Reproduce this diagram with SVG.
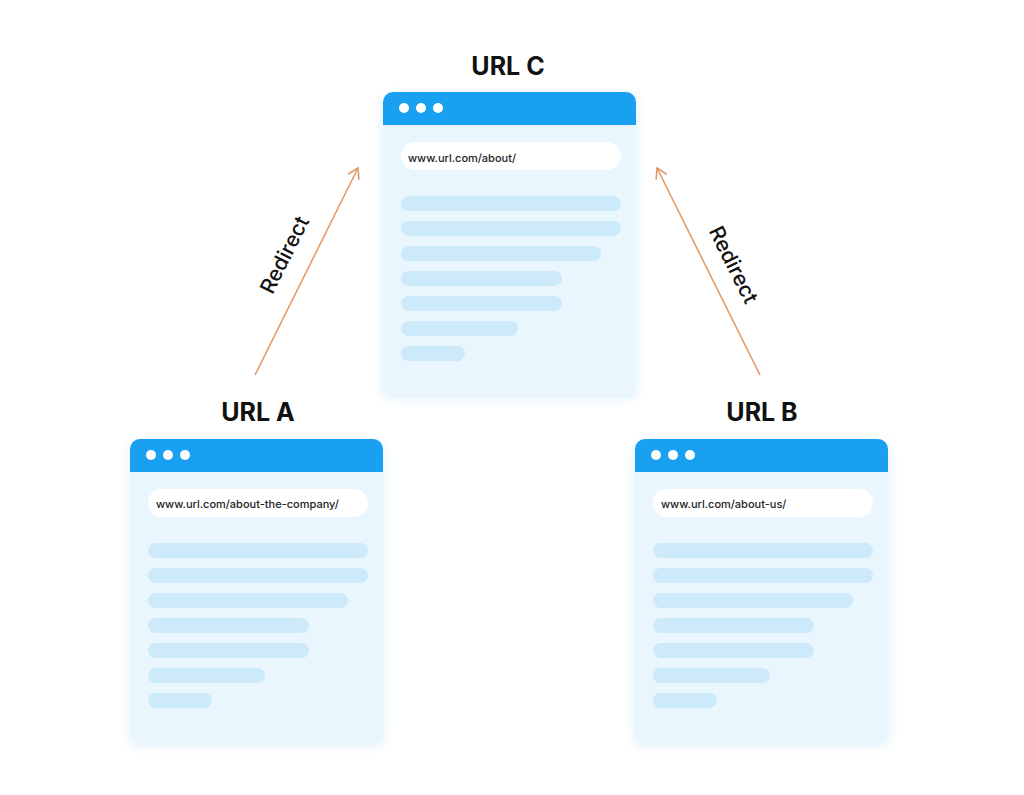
<svg xmlns="http://www.w3.org/2000/svg" width="1024" height="795" viewBox="0 0 1024 795">
<defs>
<filter id="sh" x="-10%" y="-10%" width="120%" height="120%"><feGaussianBlur stdDeviation="4"/></filter>
<marker id="ah" markerWidth="14" markerHeight="14" refX="12" refY="7" orient="auto" markerUnits="userSpaceOnUse"><path d="M2,1 L12,7 L2,13" fill="none" stroke="#e39a6b" stroke-width="1.6"/></marker>
<g id="win">
<rect x="-3" y="2" width="259" height="306" rx="10" fill="#dbeffc" opacity="0.6" filter="url(#sh)"/>
<rect x="0" y="0" width="253" height="306" rx="10" fill="#eaf6fe"/>
<path d="M0,33 V10 A10,10 0 0 1 10,0 H243 A10,10 0 0 1 253,10 V33 Z" fill="#1aa0f0"/>
<circle cx="21" cy="16" r="5" fill="#fff"/><circle cx="38" cy="16" r="5" fill="#fff"/><circle cx="55" cy="16" r="5" fill="#fff"/>
<rect x="18" y="50" width="220" height="28" rx="14" fill="#fff"/>
<g fill="#cdeafb">
<rect x="18" y="104" width="220" height="15" rx="7.5"/>
<rect x="18" y="129" width="220" height="15" rx="7.5"/>
<rect x="18" y="154" width="200" height="15" rx="7.5"/>
<rect x="18" y="179" width="161" height="15" rx="7.5"/>
<rect x="18" y="204" width="161" height="15" rx="7.5"/>
<rect x="18" y="229" width="117" height="15" rx="7.5"/>
<rect x="18" y="254" width="64" height="15" rx="7.5"/>
</g>
</g>
</defs>
<style>
.title{font-family:Inter,"Liberation Sans",sans-serif;font-weight:700;font-size:25px;fill:#111;text-anchor:middle}
.url{font-family:Inter,"Liberation Sans",sans-serif;font-weight:500;font-size:11px;fill:#222}
.lbl{font-family:Inter,"Liberation Sans",sans-serif;font-weight:500;font-size:21px;fill:#111;text-anchor:middle}
.conn{stroke:#e39a6b;stroke-width:1.6;fill:none}
</style>
<rect width="1024" height="795" fill="#fff"/>
<g id="nodeC">
<use href="#win" x="383" y="92"/>
<text class="title" x="508" y="75">URL C</text>
<text class="url" x="408" y="162">www.url.com/about/</text>
</g>
<g id="nodeA">
<use href="#win" x="130" y="439"/>
<text class="title" x="258" y="421">URL A</text>
<text class="url" x="156" y="508">www.url.com/about-the-company/</text>
</g>
<g id="nodeB">
<use href="#win" x="635" y="439"/>
<text class="title" x="762" y="421">URL B</text>
<text class="url" x="661" y="508">www.url.com/about-us/</text>
</g>
<g id="connectors">
<line class="conn" x1="255" y1="375" x2="358" y2="168" marker-end="url(#ah)"/>
<line class="conn" x1="760" y1="375" x2="657" y2="168" marker-end="url(#ah)"/>
<text class="lbl" transform="translate(291,258) rotate(-63.5)">Redirect</text>
<text class="lbl" transform="translate(727,268) rotate(63.5)">Redirect</text>
</g>
</svg>
